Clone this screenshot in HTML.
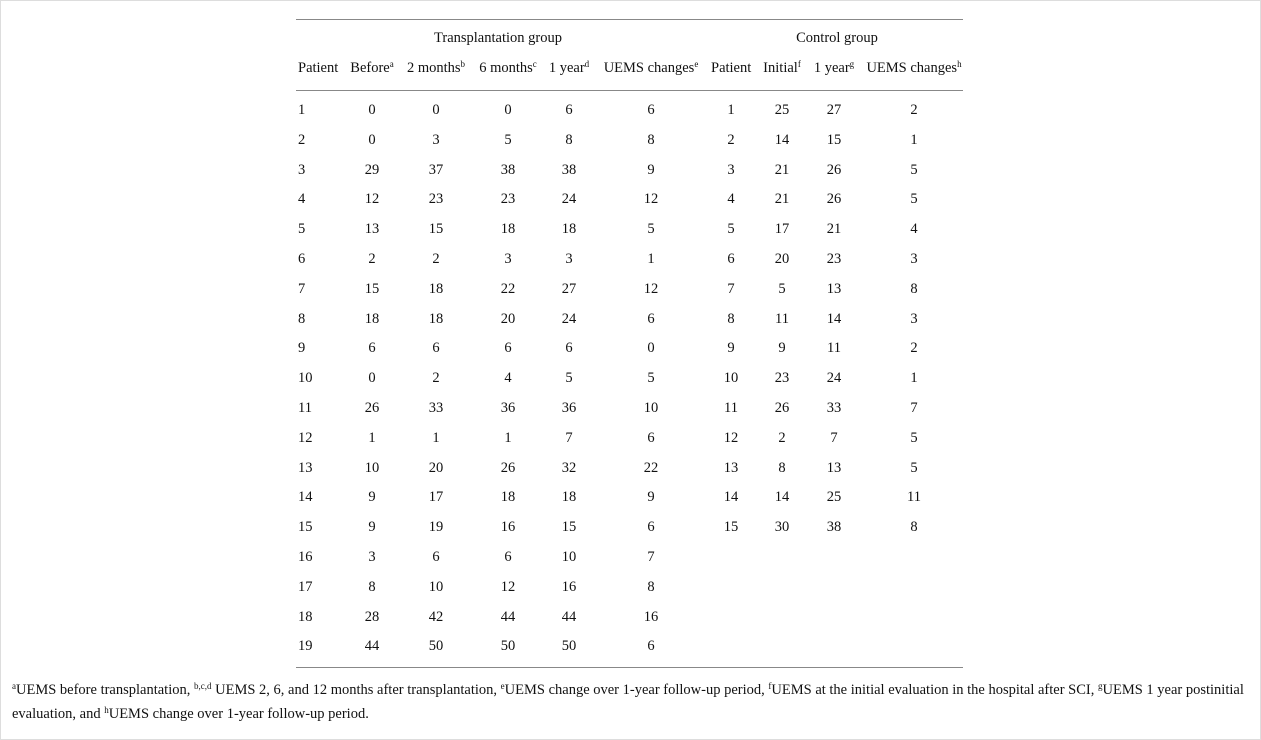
<!DOCTYPE html>
<html><head><meta charset="utf-8"><style>
html,body{margin:0;padding:0;background:#fff;}
body{width:1261px;height:740px;position:relative;overflow:hidden;font-family:"Liberation Serif",serif;font-size:14.5px;color:#111;}
.frame{position:absolute;left:0;top:0;width:1259px;height:738px;border:1px solid #ddd;}
.hl{position:absolute;left:296px;width:667px;height:1px;background:#888;}
.t{position:absolute;white-space:nowrap;line-height:16px;}
.c{transform:translateX(-50%);}
sup{font-size:9px;vertical-align:5px;line-height:0;}
.fn{position:absolute;left:12px;white-space:nowrap;font-size:14.5px;line-height:16px;}
</style></head><body>
<div class="frame"></div>
<div class="hl" style="top:19px"></div>
<div class="hl" style="top:90px"></div>
<div class="hl" style="top:667px"></div>
<div class="t c" style="left:498px;top:30px">Transplantation group</div>
<div class="t c" style="left:837px;top:30px">Control group</div>
<div class="t" style="left:298px;top:60px">Patient</div>
<div class="t c" style="left:372px;top:60px">Before<sup>a</sup></div>
<div class="t c" style="left:436px;top:60px">2 months<sup>b</sup></div>
<div class="t c" style="left:508px;top:60px">6 months<sup>c</sup></div>
<div class="t c" style="left:569px;top:60px">1 year<sup>d</sup></div>
<div class="t c" style="left:651px;top:60px">UEMS changes<sup>e</sup></div>
<div class="t" style="left:711px;top:60px">Patient</div>
<div class="t c" style="left:782px;top:60px">Initial<sup>f</sup></div>
<div class="t c" style="left:834px;top:60px">1 year<sup>g</sup></div>
<div class="t c" style="left:914px;top:60px">UEMS changes<sup>h</sup></div>
<div id="rows"></div>
<div class="fn" style="top:682px"><sup>a</sup>UEMS before transplantation, <sup>b,c,d</sup> UEMS 2, 6, and 12 months after transplantation, <sup>e</sup>UEMS change over 1-year follow-up period, <sup>f</sup>UEMS at the initial evaluation in the hospital after SCI, <sup>g</sup>UEMS 1 year postinitial</div>
<div class="fn" style="top:706px">evaluation, and <sup>h</sup>UEMS change over 1-year follow-up period.</div>
<script>
var T=[[0,0,0,6,6],[0,3,5,8,8],[29,37,38,38,9],[12,23,23,24,12],[13,15,18,18,5],[2,2,3,3,1],[15,18,22,27,12],[18,18,20,24,6],[6,6,6,6,0],[0,2,4,5,5],[26,33,36,36,10],[1,1,1,7,6],[10,20,26,32,22],[9,17,18,18,9],[9,19,16,15,6],[3,6,6,10,7],[8,10,12,16,8],[28,42,44,44,16],[44,50,50,50,6]];
var C=[[25,27,2],[14,15,1],[21,26,5],[21,26,5],[17,21,4],[20,23,3],[5,13,8],[11,14,3],[9,11,2],[23,24,1],[26,33,7],[2,7,5],[8,13,5],[14,25,11],[30,38,8]];
var tx=[372,436,508,569,651],cx=[731,782,834,914],h='';
for(var i=0;i<19;i++){var y=102+i*29.8;
h+='<div class="t" style="left:298px;top:'+y+'px">'+(i+1)+'</div>';
for(var j=0;j<5;j++)h+='<div class="t c" style="left:'+tx[j]+'px;top:'+y+'px">'+T[i][j]+'</div>';
if(i<15){var r=[i+1].concat(C[i]);for(var j=0;j<4;j++)h+='<div class="t c" style="left:'+cx[j]+'px;top:'+y+'px">'+r[j]+'</div>';}}
document.getElementById('rows').innerHTML=h;
</script>
</body></html>
